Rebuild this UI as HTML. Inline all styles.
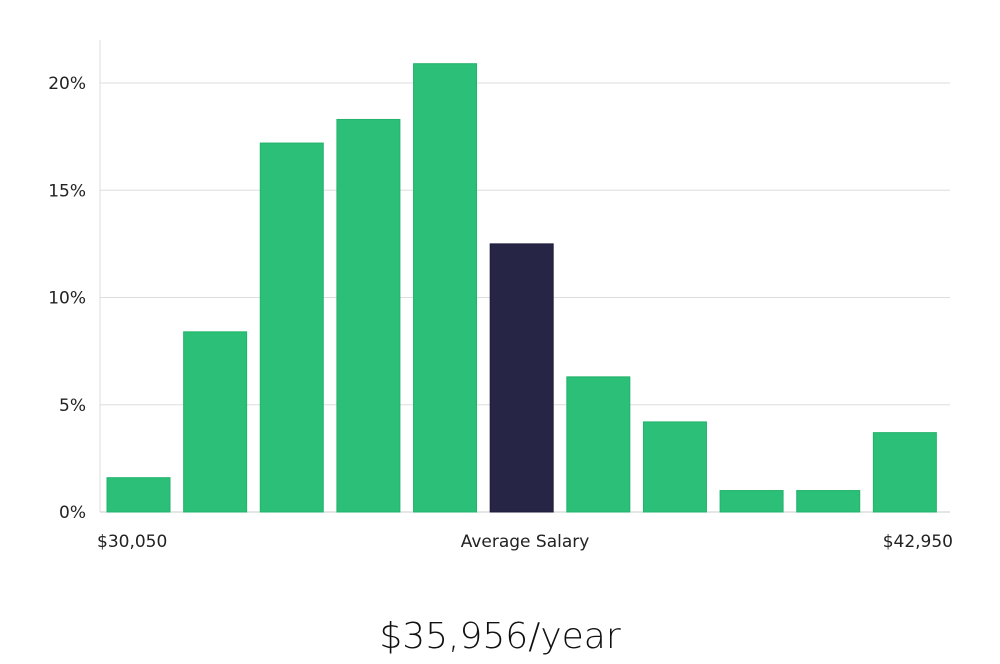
<!DOCTYPE html>
<html><head><meta charset="utf-8"><style>
body{margin:0;background:#fff;width:1000px;height:660px;overflow:hidden;font-family:"DejaVu Sans","Liberation Sans",sans-serif}
</style></head><body>
<svg width="1000" height="660">
<g id="grid"></g><g id="bars"></g><g id="labels"></g>
<text x="500" y="648" text-anchor="middle" font-size="36" fill="#111" font-family="'DejaVu Sans','Liberation Sans',sans-serif" font-weight="300">$35,956/year</text>
</svg>
<script>
const values=[1.6,8.4,17.2,18.3,20.9,12.5,6.3,4.2,1.0,1.0,3.7];
const highlight=[false,false,false,false,false,true,false,false,false,false,false];
const yTicks=[0,5,10,15,20];
const yTickLabels=["0%","5%","10%","15%","20%"];
const xLabels=["$30,050","Average Salary","$42,950"];
const NS="http://www.w3.org/2000/svg";
const x0=100,x1=950,y0=512,yTop=83,yMaxVal=20;
const y=v=>y0-(v/yMaxVal)*(y0-yTop);
const step=(x1-x0-7)/values.length, bw=63;
function mk(t,a,p){const e=document.createElementNS(NS,t);for(const k in a)e.setAttribute(k,a[k]);p.appendChild(e);return e;}
const g=document.getElementById('grid'),b=document.getElementById('bars'),l=document.getElementById('labels');
yTicks.forEach((t,i)=>{
 const ln=mk('line',{x1:x0,x2:x1,y1:y(t),y2:y(t),stroke:t===0?'#ccc':'#ddd','stroke-width':1},g);
 
 
 const tx=mk('text',{x:86,y:y(t)+6,'text-anchor':'end','font-size':17,fill:'#222'},l);
 tx.textContent=yTickLabels[i];
 
 
});
const ax=mk('line',{x1:x0,x2:x0,y1:40,y2:y0,stroke:'#ddd'},g);


values.forEach((v,i)=>{
 const r=mk('rect',{x:x0+7+i*step,y:y(v),width:bw,height:y0-y(v),fill:highlight[i]?'#272546':'#2bbf77',stroke:highlight[i]?'#1e1c3a':'#22b36c','stroke-width':1},b);
 
 
});
const xl=[[97,'start'],[525,'middle'],[953,'end']];
xLabels.forEach((s,i)=>{
 const t=mk('text',{x:xl[i][0],y:547,'text-anchor':xl[i][1],'font-size':17,fill:'#222'},l);
 t.textContent=s;
 
 
});
</script>
</body></html>
